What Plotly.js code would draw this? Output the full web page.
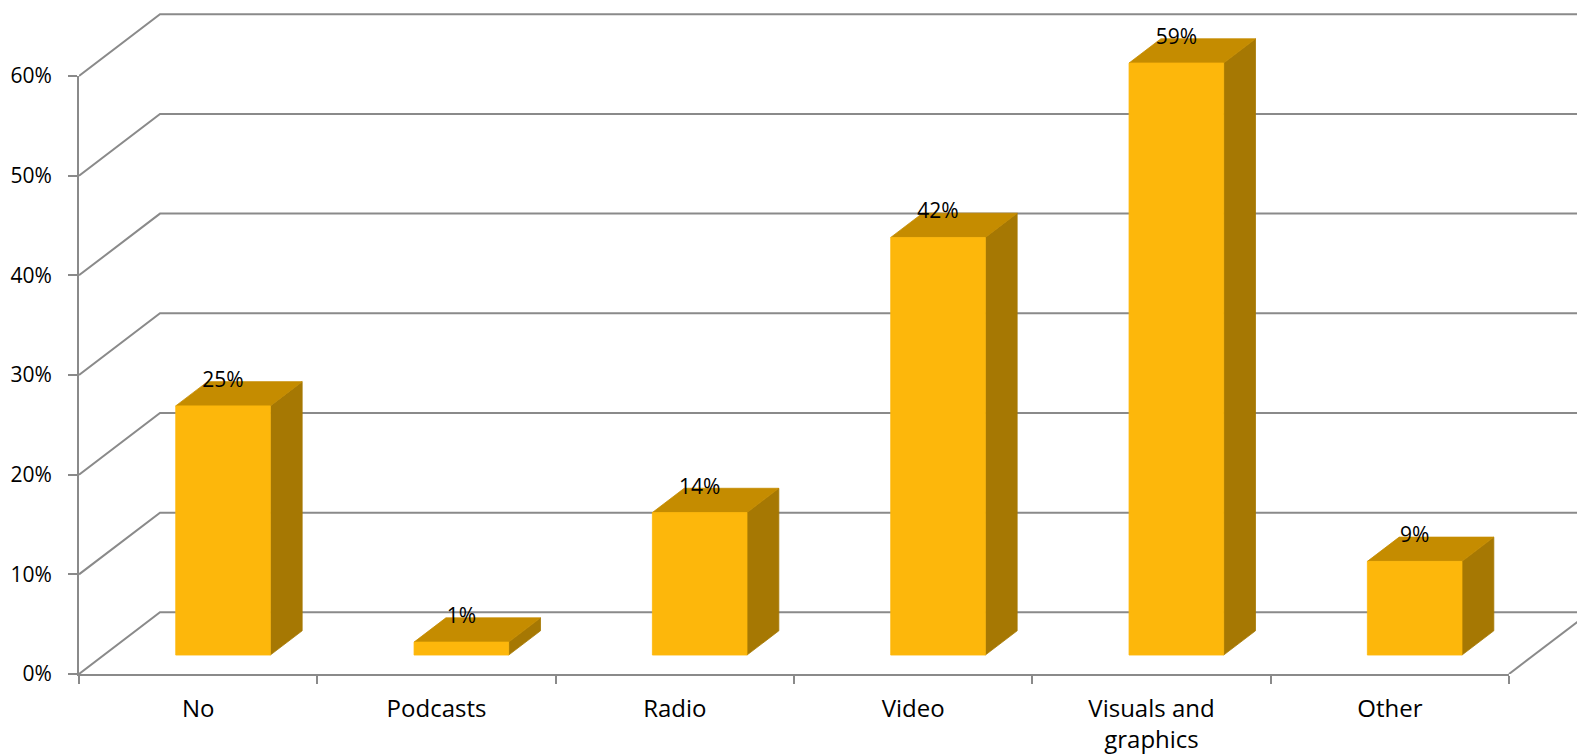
<!DOCTYPE html>
<html><head><meta charset="utf-8">
<script src="https://cdn.plot.ly/plotly-3.0.1.min.js"></script>
<style>html,body{margin:0;padding:0;background:#fff;} #chart{width:1577px;height:754px;}</style>
</head><body><div id="chart"></div>
<script>
// ---- data ----
const categories = ['No', 'Podcasts', 'Radio', 'Video', 'Visuals and graphics', 'Other'];
const categoryTickText = ['No', 'Podcasts', 'Radio', 'Video', 'Visuals and<br>graphics', 'Other'];
const values = [25.0, 1.3, 14.3, 41.9, 59.4, 9.4];
const valueLabels = ['25%', '1%', '14%', '42%', '59%', '9%'];
const yTickVals = [0, 10, 20, 30, 40, 50, 60];
const yTickText = ['0%', '10%', '20%', '30%', '40%', '50%', '60%'];

// ---- geometry / style ----
const W = 1577, H = 754, ML = 79, MB = 80;
const CAT_PX = 238.33, PCT_PX = 9.967;
const DX = 81 / CAT_PX, DY = 61.7 / PCT_PX;         // floor depth in data units
const X_MAX = (W - ML) / CAT_PX, Y_MAX = (H - MB) / PCT_PX;
const F_FRONT = 0.307, F_BACK = 0.70, BAR_W = 0.397;
const GRID = '#8a8a8a';
const C_FRONT = '#FDB70B', C_TOP = '#C58C00', C_SIDE = '#A67803';
const FONT = 'Open Sans, Noto Sans, sans-serif';
const nCat = categories.length;

// wall/floor lines
const gx = [], gy = [];
yTickVals.forEach(v => { gx.push(0, DX, X_MAX + 1, null); gy.push(v, v + DY, v + DY, null); });
gx.push(nCat, nCat + DX, null); gy.push(0, DY, null);

// bar faces
const fx = [], fy = [], tx = [], ty = [], sx = [], sy = [], lx = [], ly = [];
const ddx = (F_BACK - F_FRONT) * DX, ddy = (F_BACK - F_FRONT) * DY;
values.forEach((v, i) => {
  const xl = i + 0.5 - BAR_W / 2 + F_FRONT * DX, xr = xl + BAR_W;
  const y0 = F_FRONT * DY, y1 = y0 + v;
  fx.push(xl, xr, xr, xl, xl, null); fy.push(y0, y0, y1, y1, y0, null);
  tx.push(xl, xr, xr + ddx, xl + ddx, xl, null); ty.push(y1, y1, y1 + ddy, y1 + ddy, y1, null);
  sx.push(xr, xr + ddx, xr + ddx, xr, xr, null); sy.push(y0, y0 + ddy, y1 + ddy, y1, y0, null);
  lx.push(i + 0.5 + F_FRONT * DX); ly.push(v + F_BACK * DY);
});

const face = (x, y, c) => ({x, y, type: 'scatter', mode: 'lines', fill: 'toself', fillcolor: c,
  line: {color: c, width: 0.8}, hoverinfo: 'skip', showlegend: false});

const traces = [
  {x: gx, y: gy, type: 'scatter', mode: 'lines', line: {color: GRID, width: 2}, hoverinfo: 'skip', showlegend: false, connectgaps: false},
  face(sx, sy, C_SIDE), face(tx, ty, C_TOP), face(fx, fy, C_FRONT),
  {x: lx, y: ly, text: valueLabels, type: 'scatter', mode: 'text', textposition: 'middle center',
   textfont: {family: FONT, size: 21, color: '#000'}, cliponaxis: false, hoverinfo: 'skip', showlegend: false},
  {x: [], y: [], xaxis: 'x2', yaxis: 'y2', type: 'scatter', mode: 'markers', hoverinfo: 'skip', showlegend: false}
];

const layout = {
  width: W, height: H,
  margin: {l: ML, r: 0, t: 0, b: MB, pad: 0},
  paper_bgcolor: '#fff', plot_bgcolor: 'rgba(0,0,0,0)',
  showlegend: false,
  xaxis: {domain: [0, 1], range: [0, X_MAX], tickvals: categories.map((c, i) => i + 0.5), ticktext: categoryTickText,
    ticks: '', showline: false, showgrid: false, zeroline: false, fixedrange: true,
    tickfont: {family: FONT, size: 24, color: '#000'}, ticklabelstandoff: 18},
  yaxis: {domain: [0, 1], range: [0, Y_MAX], showticklabels: false, ticks: '', showline: false, showgrid: false, zeroline: false, fixedrange: true},
  xaxis2: {domain: [0, nCat * CAT_PX / (W - ML)], range: [0, nCat], anchor: 'y2', tickvals: [0, 1, 2, 3, 4, 5, 6],
    showticklabels: false, ticks: 'outside', ticklen: 8, tickwidth: 2, tickcolor: GRID,
    showline: true, linecolor: GRID, linewidth: 2, showgrid: false, zeroline: false, fixedrange: true},
  yaxis2: {domain: [0, 60 * PCT_PX / (H - MB)], range: [0, 60], anchor: 'x2', tickvals: yTickVals, ticktext: yTickText,
    ticks: 'outside', ticklen: 9, tickwidth: 2, tickcolor: GRID, showline: true, linecolor: GRID, linewidth: 2,
    showgrid: false, zeroline: false, fixedrange: true, tickfont: {family: FONT, size: 21, color: '#000'}, ticklabelstandoff: 12}
};

Plotly.newPlot('chart', traces, layout, {staticPlot: true, displayModeBar: false});
</script>
</body></html>
